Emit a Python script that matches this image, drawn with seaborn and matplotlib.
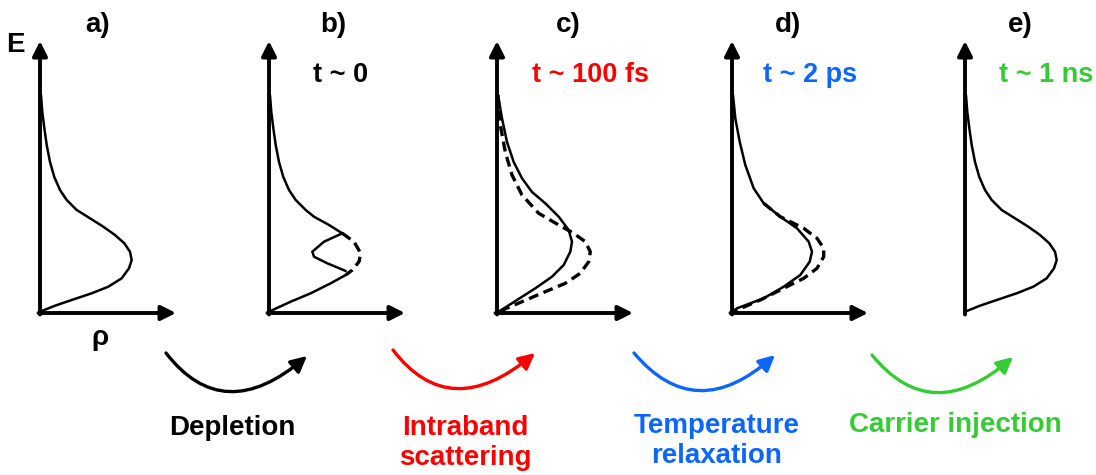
import numpy as np
import matplotlib
matplotlib.use("Agg")
import matplotlib.pyplot as plt
from matplotlib.path import Path
from matplotlib.patches import FancyArrowPatch
import seaborn as sns

# ---------------- data (rho, E relative to panel origin) ----------------
panel_labels = ["a)", "b)", "c)", "d)", "e)"]
time_labels = ["", "t ~ 0", "t ~ 100 fs", "t ~ 2 ps", "t ~ 1 ns"]
process_labels = ["Depletion", "Intraband\nscattering", "Temperature\nrelaxation", "Carrier injection"]

# equilibrium distribution (panels a, e)
eq_rho = [1, 2.3, 4.3, 6.7, 10, 14.3, 20, 26.7, 36.7, 50, 63.3, 75, 84.3, 90, 91.7,
          89, 81.7, 68.3, 51.7, 31.7, 15, 0]
eq_E = [218, 201, 185, 168, 151, 136, 123, 113, 103, 94.7, 86.3, 78, 69.7, 61.3, 53,
        44.7, 34.7, 26.3, 19.7, 13, 7.3, 1.3]

# panel b: distribution with a hole burnt in
b_upper_rho = [1, 2.3, 4.3, 6.7, 10, 14.3, 20, 26.7, 36.7, 45, 60, 73.3]
b_upper_E = [218, 201, 185, 168, 151, 136, 123, 113, 103, 96.3, 88, 79.7]
b_gap_rho = [73.3, 85, 91.7, 90, 83.3, 76.7]
b_gap_E = [79.7, 71.3, 59.7, 51.3, 43, 38]
b_hole_rho = [73.3, 55, 43.3, 45, 58.3, 76.7]
b_hole_E = [79.7, 71.3, 61.3, 56.3, 49.7, 42]
b_lower_rho = [76.7, 61.7, 41.7, 21.7, 0]
b_lower_E = [38, 29.7, 19.7, 11.3, 1.3]

# panel c: hot distribution (solid) and reference (dashed)
hot_rho = [1, 5, 10, 16.7, 25, 35, 48.3, 61.7, 71.7, 75, 73.3, 66.7, 55, 38.3, 20, 1.7]
hot_E = [218, 194.7, 171, 151, 134.7, 121, 109.7, 96.3, 83, 71.3, 61.3, 48, 36.3, 24.7, 13, 1.3]
cref_rho = [1, 3.3, 8.3, 15, 25, 41.7, 61.7, 76.7, 88.3, 93.3, 91.7, 83.3, 68.3, 48.3, 25, 1.7]
cref_E = [218, 188, 161, 138, 118, 99.7, 88, 79.7, 71.3, 61.3, 51.3, 39.7, 29.7, 21.3, 11.3, 1.3]

# panel d: relaxed distribution (solid) and reference (dashed)
relax_rho = [1, 3.3, 7.7, 13.3, 21.7, 31.7, 48.3, 65, 76.7, 80, 77.7, 68.3, 51.7, 31.7, 5, 0]
relax_E = [218, 194.7, 171.3, 148, 124.7, 109.7, 96.3, 84.7, 71.3, 61.3, 51.3, 38, 26.3, 14.7, 4.7, 1.3]
dref_rho = [31.7, 48.3, 71.7, 85, 91.7, 91.7, 85, 71.7, 51.7, 28.3, 5, 0]
dref_E = [109.7, 96.3, 84.7, 74.7, 64.7, 56.3, 44.7, 34.7, 24.7, 13, 3, 1.3]

# ---------------- layout / style ----------------
W, H = 1096, 475
origins_x = [40, 269, 497, 732, 965]
origin_y = 313
y_axis_len = 272
x_axis_len = 136
label_x = [98, 333, 568, 788, 1020]
time_x = [0, 341, 591, 810, 1046]
colors = ["black", "#FF0000", "#0A66FF", "#33CC33"]
time_colors = ["black", "black", "#FF0000", "#0A66FF", "#33CC33"]

arrow_start = [(166, 353), (393, 350), (634, 353), (872, 355)]
arrow_end = [(307, 356), (535, 353), (775, 355), (1013, 357)]
arrow_bottom = [391, 388, 390, 392]
arrow_bottom_x = [230, 457, 700, 937]
proc_xy = [(232, 428), (465, 443), (717, 441), (955, 425)]

sns.set_theme(style="white")
plt.rcParams["font.family"] = ["Liberation Sans", "DejaVu Sans"]
plt.rcParams["text.color"] = "black"

fig = plt.figure(figsize=(W / 100, H / 100), dpi=100)
ax = fig.add_axes([0, 0, 1, 1])
ax.set_xlim(0, W)
ax.set_ylim(H, 0)
ax.axis("off")

solid_lw = 1.8
dash_lw = 2.4
dash = (0, (3.0, 1.7))


def curve(x0, rho, E, **kw):
    xs = np.asarray(rho, float) + x0
    ys = origin_y - np.asarray(E, float)
    sns.lineplot(x=xs, y=ys, sort=False, estimator=None, ax=ax,
                 solid_joinstyle="round", solid_capstyle="round", **kw)


for i, x0 in enumerate(origins_x):
    ax.annotate("", xy=(x0, origin_y - y_axis_len), xytext=(x0, origin_y + 1.5),
                arrowprops=dict(arrowstyle="-|>", lw=2.8, color="black",
                                mutation_scale=22, shrinkA=0, shrinkB=0))
    ax.annotate("", xy=(x0 + x_axis_len, origin_y), xytext=(x0 - 1.5, origin_y),
                arrowprops=dict(arrowstyle="-|>", lw=2.8, color="black",
                                mutation_scale=22, shrinkA=0, shrinkB=0))
    ax.text(label_x[i], 25, panel_labels[i], ha="center", va="center",
            fontsize=20, fontweight="bold", color="black")
    if time_labels[i]:
        ax.text(time_x[i], 75, time_labels[i], ha="center", va="center",
                fontsize=19.5, fontweight="bold", color=time_colors[i])

# panel a
curve(origins_x[0], eq_rho, eq_E, color="black", lw=solid_lw)
# panel b
curve(origins_x[1], b_upper_rho, b_upper_E, color="black", lw=solid_lw)
curve(origins_x[1], b_hole_rho, b_hole_E, color="black", lw=solid_lw)
curve(origins_x[1], b_lower_rho, b_lower_E, color="black", lw=solid_lw)
curve(origins_x[1], b_gap_rho, b_gap_E, color="black", lw=dash_lw, linestyle=dash)
# panel c
curve(origins_x[2], hot_rho, hot_E, color="black", lw=solid_lw)
curve(origins_x[2], cref_rho, cref_E, color="black", lw=dash_lw, linestyle=dash)
# panel d
curve(origins_x[3], relax_rho, relax_E, color="black", lw=solid_lw)
curve(origins_x[3], dref_rho, dref_E, color="black", lw=dash_lw, linestyle=dash)
# panel e
curve(origins_x[4], eq_rho, eq_E, color="black", lw=solid_lw)

# axis labels
ax.text(15, 45, "E", ha="center", va="center", fontsize=20, fontweight="bold", color="black")
ax.text(100, 338, "ρ", ha="center", va="center", fontsize=20, fontweight="bold",
        color="black")

# process arrows (quadratic Bezier)
for i in range(4):
    (xs, ys), (xe, ye) = arrow_start[i], arrow_end[i]
    yb, xb = arrow_bottom[i], arrow_bottom_x[i]
    yc = 2 * yb - 0.5 * (ys + ye)
    xc = 2 * xb - 0.5 * (xs + xe)
    path = Path([(xs, ys), (xc, yc), (xe, ye)], [Path.MOVETO, Path.CURVE3, Path.CURVE3])
    p = FancyArrowPatch(path=path, arrowstyle="-|>", mutation_scale=24, lw=2.4,
                        color=colors[i], shrinkA=0, shrinkB=0)
    ax.add_patch(p)
    ax.text(proc_xy[i][0], proc_xy[i][1], process_labels[i], ha="center", va="center",
            fontsize=20, fontweight="bold", color=colors[i], linespacing=1.2)

fig.savefig("out.png", dpi=100)
